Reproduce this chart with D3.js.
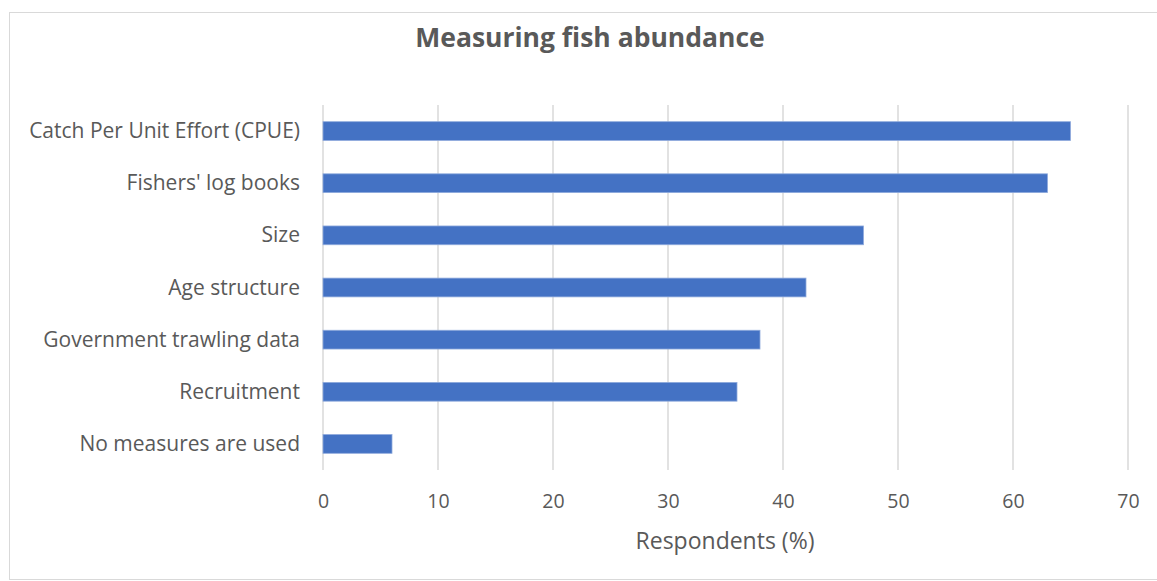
<!DOCTYPE html>
<html><head><meta charset="utf-8">
<script src="https://cdn.jsdelivr.net/npm/d3@7"></script>
<style>body{margin:0;background:#fff;} svg{display:block;} text{font-family:"Open Sans","Noto Sans",sans-serif;}</style>
</head><body><svg id="c" width="1157" height="581"></svg>
<script>
const categories = ["Catch Per Unit Effort (CPUE)","Fishers' log books","Size","Age structure","Government trawling data","Recruitment","No measures are used"];
const values = [65, 63, 47, 42, 38, 36, 6];
const xTicks = [0,10,20,30,40,50,60,70];
const title = "Measuring fish abundance";
const xTitle = "Respondents (%)";
const FONT = '"Open Sans","Noto Sans",sans-serif';

const svg = d3.select("#c");
svg.append("rect").attr("x",9.5).attr("y",12.5).attr("width",1160).attr("height",567).attr("fill","#fff").attr("stroke","#d9d9d9");
const m = {left:323, right:1128, top:105, bottom:470};
const x = d3.scaleLinear().domain([0,70]).range([m.left,m.right]);
const y = d3.scaleBand().domain(categories).range([m.top,m.bottom]).paddingInner(0.64).paddingOuter(0.32);

svg.append("g").selectAll("line").data(xTicks).join("line")
  .attr("x1",d=>x(d)).attr("x2",d=>x(d)).attr("y1",m.top).attr("y2",m.bottom)
  .attr("stroke","#d9d9d9").attr("stroke-width",1.5);

svg.append("g").selectAll("rect").data(values).join("rect")
  .attr("x",x(0)).attr("y",(d,i)=>y(categories[i])).attr("width",d=>x(d)-x(0)).attr("height",y.bandwidth())
  .attr("fill","#4472c4").attr("stroke","#8faadc").attr("stroke-width",0.8);

const xa = svg.append("g").attr("transform",`translate(0,${m.bottom})`).call(d3.axisBottom(x).tickValues(xTicks).tickSize(0).tickPadding(24));
xa.attr("font-family",FONT).attr("font-size",19.5);
xa.select(".domain").remove();
xa.selectAll("text").attr("fill","#595959");

const ya = svg.append("g").attr("transform",`translate(${m.left},0)`).call(d3.axisLeft(y).tickSize(0).tickPadding(23));
ya.attr("font-family",FONT).attr("font-size",21);
ya.select(".domain").remove();
ya.selectAll("text").attr("fill","#595959").attr("dy","0.34em");

svg.append("text").attr("x",590).attr("y",47).attr("text-anchor","middle").attr("font-size",26.5).attr("font-weight","bold").attr("fill","#595959").text(title);
svg.append("text").attr("x",725).attr("y",549).attr("text-anchor","middle").attr("font-size",23).attr("fill","#595959").text(xTitle);
</script></body></html>
